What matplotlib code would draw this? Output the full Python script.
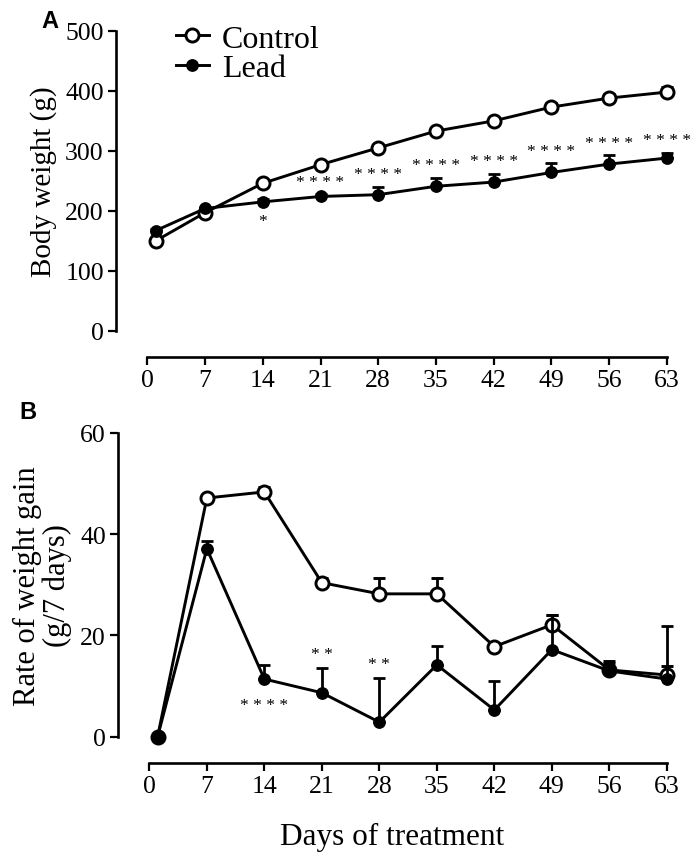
import matplotlib
matplotlib.use("Agg")
import matplotlib.pyplot as plt
from matplotlib.lines import Line2D
import numpy as np

# ── Data ──────────────────────────────────────────────────────────────────────
days = [1, 7, 14, 21, 28, 35, 42, 49, 56, 63]
tick_days = [0, 7, 14, 21, 28, 35, 42, 49, 56, 63]

bw_control = [150, 197, 246, 277, 305, 333, 350, 373, 388, 398]
bw_control_sem = [3, 3, 4, 3, 3, 4, 4, 7, 6, 9]
bw_lead = [167, 204, 215, 224, 227, 241, 248, 264, 278, 288]
bw_lead_sem = [3, 3, 4, 4, 13, 14, 14, 15, 15, 9]

gain_control = [0, 47.1, 48.3, 30.4, 28.2, 28.2, 17.8, 22.1, 13.2, 12.2]
gain_control_sem = [0, 0.5, 1.0, 1.0, 3.2, 3.2, 0.8, 2.0, 1.8, 1.8]
gain_lead = [0, 37.1, 11.4, 8.7, 2.9, 14.2, 5.3, 17.2, 13.0, 11.4]
gain_lead_sem = [0, 1.6, 2.8, 4.9, 8.7, 3.8, 5.7, 6.8, 1.5, 10.5]

# significance marks: (day, label, above/below the Lead point)
sig_a = [(14, "*", "below"), (21, "* * * *", "above"), (28, "* * * *", "above"),
         (35, "* * * *", "above"), (42, "* * * *", "above"), (49, "* * * *", "above"),
         (56, "* * * *", "above"), (63, "* * * *", "above")]
sig_b = [(14, "* * * *", "below"), (21, "* *", "above"), (28, "* *", "above")]

# ── Style ─────────────────────────────────────────────────────────────────────
SERIF = "Liberation Serif"
LW = 2.1
MS_OPEN, MS_FILL, MEW = 9.4, 8.2, 2.1
plt.rcParams["font.family"] = SERIF


def style_axes(ax, ylim, yticks):
    ax.set_xlim(-3.8, 63)
    ax.set_ylim(*ylim)
    ax.set_xticks(tick_days)
    ax.set_yticks(yticks)
    for s in ("top", "right"):
        ax.spines[s].set_visible(False)
    for s in ("left", "bottom"):
        ax.spines[s].set_linewidth(1.9)
    ax.spines["bottom"].set_position(("outward", 19))
    ax.spines["bottom"].set_bounds(0, 63)
    ax.tick_params(axis="both", length=5.8, width=1.6, labelsize=18.5, pad=3)


def draw_series(ax, y_ctrl, e_ctrl, y_lead, e_lead):
    z = np.zeros(len(days))
    ax.errorbar(days, y_lead, yerr=[z, e_lead], color="black", lw=LW,
                marker="o", ms=MS_FILL, mfc="black", mec="black",
                capsize=4.3, capthick=2.0, elinewidth=2.0, clip_on=False,
                zorder=4)
    ax.errorbar(days, y_ctrl, yerr=[z, e_ctrl], color="black", lw=LW,
                marker="o", ms=MS_OPEN, mfc="white", mec="black", mew=MEW,
                capsize=4.3, capthick=2.0, elinewidth=2.0, clip_on=False,
                zorder=3)


def draw_sig(ax, sig, y_lead, e_lead, up_pt, down_pt):
    for day, lab, where in sig:
        i = days.index(day)
        if where == "above":
            xy = (day, y_lead[i] + e_lead[i])
            off = up_pt
        else:
            xy = (day, y_lead[i])
            off = -down_pt
        ax.annotate(lab, xy=xy, xytext=(0, off), textcoords="offset points",
                    ha="center", va="center", fontsize=12.5, family=SERIF)


fig = plt.figure(figsize=(6.99, 8.62), dpi=100)

# ── Panel A ───────────────────────────────────────────────────────────────────
axA = fig.add_axes([0.166, 0.615, 0.788, 0.348])
style_axes(axA, (0, 500), [0, 100, 200, 300, 400, 500])
draw_series(axA, bw_control, bw_control_sem, bw_lead, bw_lead_sem)
draw_sig(axA, sig_a, bw_lead, bw_lead_sem, 9, 14)
axA.set_ylabel("Body weight (g)", fontsize=21, labelpad=6)
handles = [
    Line2D([], [], color="black", lw=LW, marker="o", ms=MS_OPEN,
           mfc="white", mec="black", mew=MEW),
    Line2D([], [], color="black", lw=LW, marker="o", ms=MS_FILL,
           mfc="black", mec="black"),
]
axA.legend(handles, ["Control", "Lead"], loc="upper left",
           bbox_to_anchor=(0.085, 1.065), frameon=False, fontsize=23,
           handlelength=1.05, handletextpad=0.4, labelspacing=0.0,
           borderaxespad=0)
fig.text(0.072, 0.975, "A", fontsize=17, fontweight="bold",
         family="Liberation Sans", ha="center", va="center")

# ── Panel B ───────────────────────────────────────────────────────────────────
axB = fig.add_axes([0.169, 0.144, 0.785, 0.353])
style_axes(axB, (0, 60), [0, 20, 40, 60])
draw_series(axB, gain_control, gain_control_sem, gain_lead, gain_lead_sem)
draw_sig(axB, sig_b, gain_lead, gain_lead_sem, 10, 19)
axB.set_ylabel("Rate of weight gain\n(g/7 days)", fontsize=22, labelpad=6,
               linespacing=1.0)
axB.set_xlabel("Days of treatment", fontsize=22.5, labelpad=18)
fig.text(0.04, 0.522, "B", fontsize=17, fontweight="bold",
         family="Liberation Sans", ha="center", va="center")

fig.savefig("out.png", dpi=100)
